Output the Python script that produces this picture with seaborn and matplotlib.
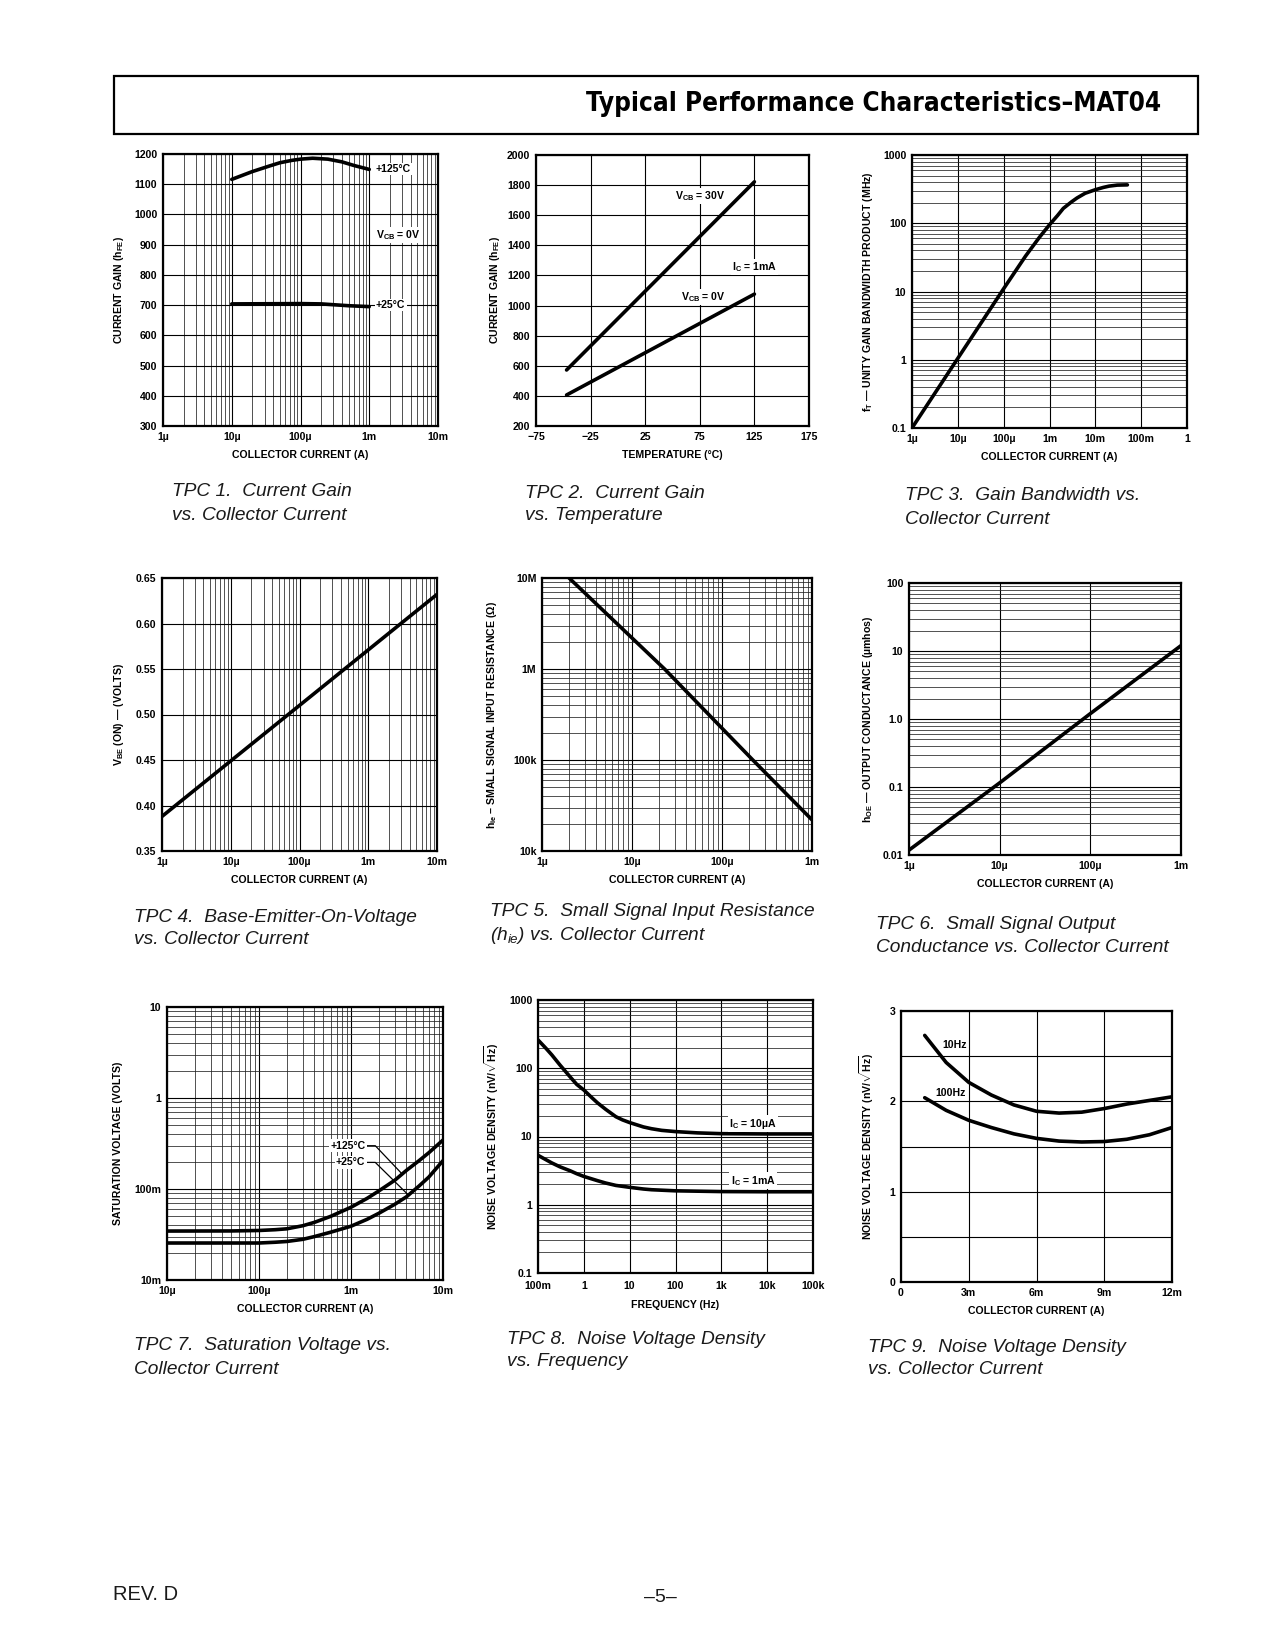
import numpy as np
import matplotlib
matplotlib.use('Agg')
import matplotlib.pyplot as plt
import seaborn as sns
from matplotlib import font_manager as fm
from matplotlib.ticker import LogLocator, NullFormatter, MultipleLocator, NullLocator
from matplotlib.patches import Rectangle

# ---------------- data ----------------
# TPC1 current gain vs collector current
tpc1_ic_125 = [10e-6, 20e-6, 35e-6, 50e-6, 75e-6, 100e-6, 150e-6, 250e-6, 400e-6, 600e-6, 1e-3]
tpc1_hfe_125 = [1116, 1142, 1160, 1171, 1179, 1183, 1186, 1183, 1174, 1162, 1149]
tpc1_ic_25 = [10e-6, 100e-6, 200e-6, 500e-6, 1e-3]
tpc1_hfe_25 = [704, 705, 704, 698, 695]
tpc1_xticks = [1e-6, 1e-5, 1e-4, 1e-3, 1e-2]
tpc1_xlabels = ["1µ", "10µ", "100µ", "1m", "10m"]
tpc1_yticks = [300, 400, 500, 600, 700, 800, 900, 1000, 1100, 1200]

# TPC2 current gain vs temperature
tpc2_temp = [-47, 125]
tpc2_hfe_30v = [572, 1822]
tpc2_hfe_0v = [406, 1076]
tpc2_xticks = [-75, -25, 25, 75, 125, 175]
tpc2_xlabels = ["−75", "−25", "25", "75", "125", "175"]
tpc2_yticks = [200, 400, 600, 800, 1000, 1200, 1400, 1600, 1800, 2000]

# TPC3 gain bandwidth vs collector current
tpc3_ic = [1e-6, 10e-6, 100e-6, 300e-6, 600e-6, 1e-3, 1.5e-3, 2e-3, 3e-3, 4e-3, 6e-3,
           10e-3, 15e-3, 20e-3, 30e-3, 50e-3]
tpc3_ft = [0.1, 1.05, 11, 33, 62, 95, 130, 165, 205, 235, 275, 310, 335, 350, 362, 365]
tpc3_xticks = [1e-6, 1e-5, 1e-4, 1e-3, 1e-2, 1e-1, 1]
tpc3_xlabels = ["1µ", "10µ", "100µ", "1m", "10m", "100m", "1"]
tpc3_yticks = [0.1, 1, 10, 100, 1000]
tpc3_ylabels = ["0.1", "1", "10", "100", "1000"]

# TPC4 VBE(on) vs collector current
tpc4_ic = [1e-6, 100e-6, 10e-3]
tpc4_vbe = [0.388, 0.510, 0.632]
tpc4_yticks = [0.35, 0.40, 0.45, 0.50, 0.55, 0.60, 0.65]
tpc4_ylabels = ["0.35", "0.40", "0.45", "0.50", "0.55", "0.60", "0.65"]

# TPC5 small signal input resistance
tpc5_ic = [2e-6, 23e-6, 220e-6, 1e-3]
tpc5_hie = [10e6, 1e6, 100e3, 22e3]
tpc5_xticks = [1e-6, 1e-5, 1e-4, 1e-3]
tpc5_xlabels = ["1µ", "10µ", "100µ", "1m"]
tpc5_yticks = [1e4, 1e5, 1e6, 1e7]
tpc5_ylabels = ["10k", "100k", "1M", "10M"]

# TPC6 small signal output conductance
tpc6_ic = [1e-6, 10e-6, 100e-6, 1e-3]
tpc6_hoe = [0.0118, 0.115, 1.2, 12]
tpc6_yticks = [0.01, 0.1, 1, 10, 100]
tpc6_ylabels = ["0.01", "0.1", "1.0", "10", "100"]

# TPC7 saturation voltage
tpc7_ic = [10e-6, 50e-6, 100e-6, 150e-6, 200e-6, 300e-6, 400e-6, 600e-6, 1e-3, 1.5e-3,
           2e-3, 3e-3, 4e-3, 5.5e-3, 7e-3, 10e-3]
tpc7_vsat_125 = [34.5e-3, 34.6e-3, 35e-3, 35.7e-3, 36.5e-3, 39.5e-3, 43e-3, 50e-3, 63e-3,
                 79e-3, 95e-3, 125e-3, 160e-3, 205e-3, 250e-3, 345e-3]
tpc7_vsat_25 = [25.5e-3, 25.5e-3, 25.5e-3, 26e-3, 26.5e-3, 28e-3, 30e-3, 33.5e-3, 39e-3,
                46.5e-3, 54e-3, 68e-3, 82e-3, 108e-3, 135e-3, 205e-3]
tpc7_xticks = [1e-5, 1e-4, 1e-3, 1e-2]
tpc7_xlabels = ["10µ", "100µ", "1m", "10m"]
tpc7_yticks = [1e-2, 1e-1, 1, 10]
tpc7_ylabels = ["10m", "100m", "1", "10"]

# TPC8 noise voltage density vs frequency
tpc8_freq_10u = [0.1, 0.15, 0.2, 0.3, 0.5, 0.7, 1, 1.5, 2, 3, 5, 7, 10, 20, 30, 50, 100,
                 300, 1000, 10000, 100000]
tpc8_en_10u = [260, 195, 157, 112, 75, 58, 48, 37, 31, 25, 19.5, 17.5, 16, 13.8, 13, 12.3,
               11.8, 11.3, 11, 10.9, 10.9]
tpc8_freq_1m = [0.1, 0.2, 0.3, 0.5, 0.7, 1, 2, 3, 5, 10, 20, 30, 100, 1000, 10000, 100000]
tpc8_en_1m = [5.3, 4.1, 3.6, 3.15, 2.85, 2.6, 2.25, 2.08, 1.92, 1.8, 1.7, 1.66, 1.6, 1.56,
              1.55, 1.55]
tpc8_xticks = [0.1, 1, 10, 100, 1e3, 1e4, 1e5]
tpc8_xlabels = ["100m", "1", "10", "100", "1k", "10k", "100k"]
tpc8_yticks = [0.1, 1, 10, 100, 1000]
tpc8_ylabels = ["0.1", "1", "10", "100", "1000"]

# TPC9 noise voltage density vs collector current (mA)
tpc9_ic_ma = [1.05, 2, 3, 4, 5, 6, 7, 8, 9, 10, 11, 12]
tpc9_en_10hz = [2.73, 2.43, 2.21, 2.07, 1.96, 1.89, 1.87, 1.88, 1.92, 1.97, 2.01, 2.05]
tpc9_en_100hz = [2.04, 1.90, 1.79, 1.71, 1.64, 1.59, 1.56, 1.55, 1.555, 1.58, 1.63, 1.71]
tpc9_xticks = [0, 3, 6, 9, 12]
tpc9_xlabels = ["0", "3m", "6m", "9m", "12m"]
tpc9_yticks = [0, 1, 2, 3]

captions = [
    ("TPC 1.  Current Gain", "vs. Collector Current"),
    ("TPC 2.  Current Gain", "vs. Temperature"),
    ("TPC 3.  Gain Bandwidth vs.", "Collector Current"),
    ("TPC 4.  Base-Emitter-On-Voltage", "vs. Collector Current"),
    ("TPC 5.  Small Signal Input Resistance", r"($\mathit{h}_{\mathit{ie}}$) vs. Collector Current"),
    ("TPC 6.  Small Signal Output", "Conductance vs. Collector Current"),
    ("TPC 7.  Saturation Voltage vs.", "Collector Current"),
    ("TPC 8.  Noise Voltage Density", "vs. Frequency"),
    ("TPC 9.  Noise Voltage Density", "vs. Collector Current"),
]

# ---------------- style ----------------
sns.set_theme(style='white')
plt.rcParams['font.family'] = ['Liberation Sans', 'DejaVu Sans']
plt.rcParams['mathtext.fontset'] = 'custom'
plt.rcParams['mathtext.rm'] = 'Liberation Sans'
plt.rcParams['mathtext.bf'] = 'Liberation Sans:bold'
plt.rcParams['mathtext.it'] = 'Liberation Sans:italic'
plt.rcParams['mathtext.default'] = 'bf'
plt.rcParams['text.color'] = 'black'
plt.rcParams['axes.labelcolor'] = 'black'
plt.rcParams['xtick.color'] = 'black'
plt.rcParams['ytick.color'] = 'black'

W, H = 1275.0, 1650.0
fig = plt.figure(figsize=(12.75, 16.5), dpi=100)
fig.patch.set_facecolor('white')

TS = 7.6   # tick label size
LS = 7.6   # axis label size
CURVE_LW = 2.6


def make_ax(box):
    x0, y0, x1, y1 = box
    ax = fig.add_axes([x0 / W, 1 - y1 / H, (x1 - x0) / W, (y1 - y0) / H])
    for s in ax.spines.values():
        s.set_visible(True)
        s.set_color('black')
        s.set_linewidth(1.6)
    return ax


def finish(ax, xlog, ylog, xminor, yminor, xticks, xlabels, yticks, ylabels,
           xlim, ylim, xlabel, ylabel, ylabelpad=6):
    if xlog:
        ax.set_xscale('log')
    if ylog:
        ax.set_yscale('log')
    ax.set_xlim(*xlim)
    ax.set_ylim(*ylim)
    ax.set_xticks(xticks, labels=xlabels, fontweight='bold', fontsize=TS)
    ax.set_yticks(yticks, labels=ylabels, fontweight='bold', fontsize=TS)
    ax.grid(False)
    ax.grid(True, which='major', axis='both', color='black', lw=0.8)
    if xminor == 'log':
        ax.xaxis.set_minor_locator(LogLocator(base=10, subs=np.arange(2, 10), numticks=100))
        ax.xaxis.set_minor_formatter(NullFormatter())
        ax.grid(True, which='minor', axis='x', color='#222222', lw=0.55)
    else:
        ax.xaxis.set_minor_locator(NullLocator())
    if yminor == 'log':
        ax.yaxis.set_minor_locator(LogLocator(base=10, subs=np.arange(2, 10), numticks=100))
        ax.yaxis.set_minor_formatter(NullFormatter())
        ax.grid(True, which='minor', axis='y', color='#222222', lw=0.55)
    elif isinstance(yminor, float):
        ax.yaxis.set_minor_locator(MultipleLocator(yminor))
        ax.yaxis.set_minor_formatter(NullFormatter())
        ax.grid(True, which='minor', axis='y', color='black', lw=0.8)
    else:
        ax.yaxis.set_minor_locator(NullLocator())
    ax.tick_params(which='both', length=0, pad=4, colors='black')
    ax.set_axisbelow(True)
    ax.set_xlabel(xlabel, fontweight='bold', fontsize=LS, labelpad=6, color='black')
    ax.set_ylabel(ylabel, fontweight='bold', fontsize=LS, labelpad=ylabelpad, color='black')


def curve(ax, x, y):
    sns.lineplot(x=np.asarray(x, float), y=np.asarray(y, float), ax=ax, color='black',
                 linewidth=CURVE_LW, estimator=None, sort=False, legend=False)


def label(ax, x, y, s, box=False, ha='left'):
    kw = dict(ha=ha, va='center', fontsize=TS, fontweight='bold', color='black', zorder=5)
    if box:
        kw['bbox'] = dict(facecolor='white', edgecolor='none', pad=1.0)
    ax.text(x, y, s, **kw)


# ---------------- TPC1 ----------------
ax1 = make_ax((163, 154, 438, 426))
ax1.set_xscale('log')
curve(ax1, tpc1_ic_125, tpc1_hfe_125)
curve(ax1, tpc1_ic_25, tpc1_hfe_25)
finish(ax1, True, False, 'log', None, tpc1_xticks, tpc1_xlabels, tpc1_yticks,
       [str(v) for v in tpc1_yticks], (1e-6, 1e-2), (300, 1200),
       'COLLECTOR CURRENT (A)', 'CURRENT GAIN (h$_{FE}$)', 6)
label(ax1, 1.25e-3, 1150, '+125°C', box=True)
label(ax1, 1.25e-3, 932, 'V$_{CB}$ = 0V', box=True)
label(ax1, 1.25e-3, 700, '+25°C', box=True)

# ---------------- TPC2 ----------------
ax2 = make_ax((536, 155, 809, 426))
curve(ax2, tpc2_temp, tpc2_hfe_30v)
curve(ax2, tpc2_temp, tpc2_hfe_0v)
finish(ax2, False, False, None, None, tpc2_xticks, tpc2_xlabels, tpc2_yticks,
       [str(v) for v in tpc2_yticks], (-75, 175), (200, 2000),
       'TEMPERATURE (°C)', 'CURRENT GAIN (h$_{FE}$)', 4)
label(ax2, 52, 1727, 'V$_{CB}$ = 30V', box=True)
label(ax2, 104.5, 1256, 'I$_C$ = 1mA', box=True)
label(ax2, 57.6, 1056, 'V$_{CB}$ = 0V', box=True)

# ---------------- TPC3 ----------------
ax3 = make_ax((912, 155, 1187, 428))
ax3.set_xscale('log'); ax3.set_yscale('log')
curve(ax3, tpc3_ic, tpc3_ft)
finish(ax3, True, True, None, 'log', tpc3_xticks, tpc3_xlabels, tpc3_yticks,
       tpc3_ylabels, (1e-6, 1), (0.1, 1000),
       'COLLECTOR CURRENT (A)', 'f$_T$ — UNITY GAIN BANDWIDTH PRODUCT (MHz)', 6)

# ---------------- TPC4 ----------------
ax4 = make_ax((162, 578, 437, 851))
ax4.set_xscale('log')
curve(ax4, tpc4_ic, tpc4_vbe)
finish(ax4, True, False, 'log', None, tpc1_xticks, tpc1_xlabels, tpc4_yticks,
       tpc4_ylabels, (1e-6, 1e-2), (0.35, 0.65),
       'COLLECTOR CURRENT (A)', 'V$_{BE}$ (ON) — (VOLTS)', 7)

# ---------------- TPC5 ----------------
ax5 = make_ax((542, 578, 812, 851))
ax5.set_xscale('log'); ax5.set_yscale('log')
curve(ax5, tpc5_ic, tpc5_hie)
finish(ax5, True, True, 'log', 'log', tpc5_xticks, tpc5_xlabels, tpc5_yticks,
       tpc5_ylabels, (1e-6, 1e-3), (1e4, 1e7),
       'COLLECTOR CURRENT (A)', 'h$_{ie}$ – SMALL SIGNAL INPUT RESISTANCE (Ω)', 10)

# ---------------- TPC6 ----------------
ax6 = make_ax((909, 583, 1181, 855))
ax6.set_xscale('log'); ax6.set_yscale('log')
curve(ax6, tpc6_ic, tpc6_hoe)
finish(ax6, True, True, None, 'log', tpc5_xticks, tpc5_xlabels, tpc6_yticks,
       tpc6_ylabels, (1e-6, 1e-3), (0.01, 100),
       'COLLECTOR CURRENT (A)', 'h$_{OE}$ — OUTPUT CONDUCTANCE (µmhos)', 6)

# ---------------- TPC7 ----------------
ax7 = make_ax((167, 1007, 443, 1280))
ax7.set_xscale('log'); ax7.set_yscale('log')
curve(ax7, tpc7_ic, tpc7_vsat_125)
curve(ax7, tpc7_ic, tpc7_vsat_25)
finish(ax7, True, True, 'log', 'log', tpc7_xticks, tpc7_xlabels, tpc7_yticks,
       tpc7_ylabels, (1e-5, 1e-2), (1e-2, 10),
       'COLLECTOR CURRENT (A)', 'SATURATION VOLTAGE (VOLTS)', 8)
arrow_kw = dict(arrowstyle='-', lw=0.9, color='black', relpos=(1, 0.5), shrinkA=0, shrinkB=0,
                connectionstyle='arc,angleA=0,angleB=0,armA=10,armB=0,rad=0')
ax7.annotate('+125°C', xy=(3.6e-3, 146e-3), xytext=(1.43e-3, 299e-3), ha='right', va='center',
             fontsize=TS, fontweight='bold', zorder=6, color='black',
             bbox=dict(facecolor='white', edgecolor='none', pad=1.0), arrowprops=arrow_kw)
ax7.annotate('+25°C', xy=(4.2e-3, 86e-3), xytext=(1.43e-3, 196e-3), ha='right', va='center',
             fontsize=TS, fontweight='bold', zorder=6, color='black',
             bbox=dict(facecolor='white', edgecolor='none', pad=1.0), arrowprops=arrow_kw)

# ---------------- TPC8 ----------------
ax8 = make_ax((538, 1000, 813, 1273))
ax8.set_xscale('log'); ax8.set_yscale('log')
curve(ax8, tpc8_freq_10u, tpc8_en_10u)
curve(ax8, tpc8_freq_1m, tpc8_en_1m)
finish(ax8, True, True, None, 'log', tpc8_xticks, tpc8_xlabels, tpc8_yticks,
       tpc8_ylabels, (0.1, 1e5), (0.1, 1000),
       'FREQUENCY (Hz)', r'NOISE VOLTAGE DENSITY (nV/$\sqrt{\mathbf{Hz}}$)', 6)
ax8.tick_params(axis='x', pad=6)
label(ax8, 1.5e3, 15.5, 'I$_C$ = 10µA', box=True)
label(ax8, 1.6e3, 2.25, 'I$_C$ = 1mA', box=True)

# ---------------- TPC9 ----------------
ax9 = make_ax((901, 1011, 1172, 1282))
curve(ax9, tpc9_ic_ma, tpc9_en_10hz)
curve(ax9, tpc9_ic_ma, tpc9_en_100hz)
finish(ax9, False, False, None, 0.5, tpc9_xticks, tpc9_xlabels, tpc9_yticks,
       [str(v) for v in tpc9_yticks], (0, 12), (0, 3),
       'COLLECTOR CURRENT (A)', r'NOISE VOLTAGE DENSITY (nV/$\sqrt{\mathbf{Hz}}$)', 10)
label(ax9, 1.85, 2.62, '10Hz')
label(ax9, 1.52, 2.09, '100Hz')

# ---------------- captions ----------------
cap_pos = [(172, 492), (525, 493), (905, 496), (134, 917), (490, 912), (876, 924),
           (134, 1346), (507, 1339), (868, 1347)]
for (l1, l2), (cx, cy) in zip(captions, cap_pos):
    fig.text(cx / W, 1 - cy / H, l1, ha='left', va='center', fontsize=13.8,
             style='italic', fontweight='normal', color='#1a1a1a')
    fig.text(cx / W, 1 - (cy + 23) / H, l2, ha='left', va='center', fontsize=13.8,
             style='italic', fontweight='normal', color='#1a1a1a')

# ---------------- header & footer ----------------
fig.add_artist(Rectangle((113.5 / W, 1 - 133.5 / H), (1198 - 113.5) / W, (133.5 - 75.7) / H,
                         fill=False, lw=1.6, edgecolor='black', transform=fig.transFigure))


def condensed_font():
    for fam, stretch in [('Liberation Sans Narrow', 'normal'), ('DejaVu Sans', 'condensed'),
                         ('Roboto Condensed', 'normal'), ('Open Sans Condensed', 'normal')]:
        try:
            fp = fm.FontProperties(family=fam, weight='bold', stretch=stretch)
            path = fm.findfont(fp, fallback_to_default=False)
            if 'Narrow' in path or 'Condensed' in path:
                return fp
        except Exception:
            pass
    return fm.FontProperties(family='Liberation Sans', weight='bold')


title_fp = condensed_font()
title_fp.set_size(30)
title = fig.text(1161 / W, 1 - 104 / H, 'Typical Performance Characteristics–MAT04', ha='right',
                 va='center', fontproperties=title_fp, color='black')
# fit the title to the width it spans on the page
fig.canvas.draw()
tw = title.get_window_extent().width
target_w = 1161 - 588
title_fp.set_size(min(32, 30 * target_w / tw))
title.set_fontproperties(title_fp)

fig.text(112.5 / W, 1 - 1595 / H, 'REV. D', ha='left', va='center', fontsize=14.5, color='#1a1a1a')
fig.text(660 / W, 1 - 1597 / H, '–5–', ha='center', va='center', fontsize=14, color='#1a1a1a')

fig.savefig('out.png', dpi=100, facecolor='white')
